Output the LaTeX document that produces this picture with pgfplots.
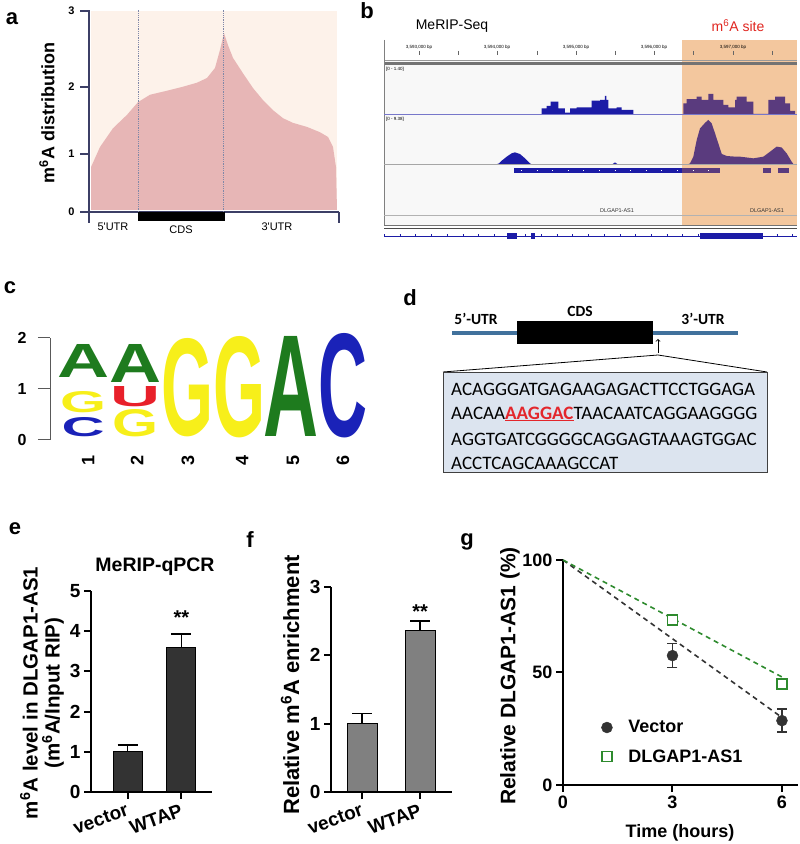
\documentclass[border=0pt]{standalone}
\usepackage{fontspec}
\setmainfont{Liberation Sans}
\newfontfamily\carlito{Carlito}
\usepackage{graphicx}
\usepackage{pgfplots}
\pgfplotsset{compat=1.18}
\newcommand\fs[1]{\fontsize{#1}{#1}\selectfont}
\definecolor{peach}{HTML}{FDF2EA}
\definecolor{pinkc}{HTML}{E7B6B6}
\definecolor{axisnavy}{HTML}{3C3F66}
\definecolor{dotc}{HTML}{8088A8}
\definecolor{igvbg}{HTML}{F8F8F8}
\definecolor{orangec}{HTML}{F3C79E}
\definecolor{igvblue}{HTML}{1C1CA6}
\definecolor{igvpurple}{HTML}{5A3B7E}
\definecolor{logoA}{HTML}{1E7B1E}
\definecolor{logoG}{HTML}{F7EF1A}
\definecolor{logoC}{HTML}{1A22B8}
\definecolor{logoU}{HTML}{E8202A}
\definecolor{utrblue}{HTML}{41719C}
\definecolor{seqbox}{HTML}{DCE4EF}
\definecolor{seqred}{HTML}{E3262C}
\definecolor{bar1}{HTML}{333333}
\definecolor{bar2}{HTML}{808080}
\definecolor{ggreen}{HTML}{2E8B2E}
\definecolor{msite}{HTML}{E0251F}
\newcommand\LL[6]{\node[anchor=south,inner sep=0pt,text=#5] at (axis cs:#1,#2) {\resizebox{#3pt}{#4pt}{\textbf{#6}}};}
\pgfplotsset{gp/.style={scale only axis, anchor=south west, axis lines*=left, tick align=outside,
  major tick length=7pt, axis line style={line width=2pt, black}, tick style={line width=2pt, black},
  /pgf/number format/assume math mode=true, ticklabel style={font=\fs{19}\bfseries}, clip=false}}
\pgfplotsset{trk/.style={scale only axis, anchor=south west, hide axis, width=413pt,
  xmin=3592.554, xmax=3597.821}}
\begin{document}
\begin{tikzpicture}[x=1pt,y=1pt]
\useasboundingbox (0,0) rectangle (800,844);

% ================= panel a
\begin{axis}[scale only axis, anchor=south west, at={(89pt,632pt)}, width=250pt, height=202pt,
  xmin=0, xmax=250, ymin=0, ymax=3.015, axis lines*=left, clip=false, xtick=\empty,
  ytick={0,0.866,1.866,3.0}, yticklabels={0,1,2,3}, tick align=outside, major tick length=9pt,
  axis line style={axisnavy, line width=1.2pt}, tick style={axisnavy, line width=1.2pt},
  yticklabel style={font=\fs{11}\bfseries, xshift=-2pt}]
\fill[peach] (axis cs:2,0.03) rectangle (axis cs:248,3.0);
\addplot[fill=pinkc, draw=none] coordinates {(2,0.03)(2,0.67)(11,0.97)(24,1.25)(38,1.45)(49,1.64)(61,1.75)(78,1.81)(94,1.87)(108,1.93)(118,2.00)(126,2.15)(131,2.42)(135,2.67)(139,2.49)(144,2.30)(154,2.07)(164,1.85)(174,1.67)(184,1.52)(194,1.40)(204,1.33)(218,1.27)(231,1.19)(239,1.12)(244,0.97)(247,0.67)(248,0.03)};
\draw[dotc, densely dotted, line width=0.8pt] (axis cs:49,0) -- (axis cs:49,3.015);
\draw[dotc, densely dotted, line width=0.8pt] (axis cs:134,0) -- (axis cs:134,3.015);
\fill[black] (axis cs:49,0) rectangle (axis cs:136,-0.134);
\draw[axisnavy, line width=1.2pt] (axis cs:0,0) -- (axis cs:0,-0.16);
\draw[axisnavy, line width=1.2pt] (axis cs:250,0) -- (axis cs:250,-0.16);
\end{axis}
\node[font=\fs{22}\bfseries] at (12,844-19) {a};
\node[rotate=90,font=\fs{18}\bfseries] at (47,844-113) {m\textsuperscript{6}A distribution};
\node[font=\fs{11}] at (113,844-227) {5\textquotesingle UTR};
\node[font=\fs{11}] at (181,844-230) {CDS};
\node[font=\fs{11}] at (277,844-227) {3\textquotesingle UTR};

% ================= panel b
\node[font=\fs{22}\bfseries] at (367,844-11) {b};
\node[font=\fs{14}] at (452,844-26) {MeRIP-Seq};
\node[font=\fs{14}, text=msite] at (738,844-26) {m\textsuperscript{6}A site};
\fill[white] (384,844-40) rectangle (797,844-60);
\fill[igvbg] (384,844-60) rectangle (797,844-225);
\fill[orangec] (682,844-40) rectangle (797,844-225);
\foreach \x in {419,458,497,537,576,615,654,693,733,772} \draw[black!60, line width=0.5pt] (\x,844-51) -- (\x,844-55);
\node[font=\fs{4.5}] at (419,844-47) {3,593,000 bp};
\node[font=\fs{4.5}] at (497,844-47) {3,594,000 bp};
\node[font=\fs{4.5}] at (576,844-47) {3,595,000 bp};
\node[font=\fs{4.5}] at (654,844-47) {3,596,000 bp};
\node[font=\fs{4.5}] at (733,844-47) {3,597,000 bp};
\draw[black!40, line width=0.5pt] (384,844-60) -- (797,844-60);
\draw[black!55, line width=2.2pt] (384,844-63.5) -- (797,844-63.5);
\draw[black!50, line width=0.6pt] (384,844-40) -- (384,844-226);
\draw[black!30, line width=0.5pt] (384,844-215) -- (797,844-215);
\draw[black!55, line width=0.6pt] (384,844-225) -- (797,844-225);
\draw[black!70, line width=0.8pt] (384,844-228) -- (797,844-228);
\draw[igvblue!60, line width=0.6pt] (384,844-114) -- (797,844-114);
\draw[black!35, line width=0.5pt] (384,844-164) -- (797,844-164);
\node[font=\fs{4.5}, anchor=west, inner sep=0pt] at (386,844-69) {[0 - 1.40]};
\node[font=\fs{4.5}, anchor=west, inner sep=0pt] at (386,844-119) {[0 - 9.38]};
\node[font=\fs{5.5}, text=black!80] at (617,844-211) {DLGAP1-AS1};
\node[font=\fs{5.5}, text=black!80] at (767,844-211) {DLGAP1-AS1};
% track 1
\begin{axis}[trk, at={(384pt,730pt)}, height=47pt, ymin=0, ymax=1.40]
\addplot[const plot, fill=igvblue, draw=none] coordinates {(3594.565,0.17)(3594.628,0.24)(3594.679,0.37)(3594.777,0.17)(3594.862,0.04)(3594.926,0.17)(3595.011,0.20)(3595.203,0.40)(3595.309,0.42)(3595.37,0.54)(3595.39,0.42)(3595.415,0.17)(3595.522,0.20)(3595.585,0.12)(3595.734,0)} \closedcycle;
\addplot[const plot, fill=igvpurple, draw=none] coordinates {(3596.372,0.32)(3596.414,0.44)(3596.542,0.52)(3596.606,0.42)(3596.690,0.60)(3596.754,0.42)(3596.882,0.27)(3596.945,0.20)(3597.031,0.42)(3597.052,0.52)(3597.180,0.37)(3597.264,0)(3597.456,0.42)(3597.541,0.52)(3597.668,0.32)(3597.732,0.09)(3597.796,0)} \closedcycle;
\end{axis}
% track 2
\begin{axis}[trk, at={(384pt,680pt)}, height=47pt, ymin=0, ymax=9.38]
\addplot[fill=igvblue, draw=none] coordinates {(3594.0,0)(3594.02,0.13)(3594.055,0.66)(3594.119,1.46)(3594.182,2.13)(3594.224,2.33)(3594.288,1.99)(3594.352,1.13)(3594.416,0.13)(3594.43,0)};
\addplot[fill=igvblue, draw=none] coordinates {(3595.47,0)(3595.5,0.3)(3595.53,0)};
\addplot[fill=igvpurple, draw=none] coordinates {(3596.44,0)(3596.457,0.13)(3596.499,1.46)(3596.542,4.8)(3596.584,7.1)(3596.648,8.2)(3596.690,8.8)(3596.733,8.1)(3596.776,6.1)(3596.818,4.1)(3596.861,2.0)(3596.925,1.6)(3597.00,1.5)(3597.094,1.46)(3597.18,1.3)(3597.264,1.13)(3597.392,1.46)(3597.477,2.46)(3597.562,3.46)(3597.625,3.3)(3597.689,2.13)(3597.753,0.46)(3597.774,0)};
\end{axis}
% gene models
\begin{axis}[trk, at={(384pt,604pt)}, height=80pt, ymin=160, ymax=240, y dir=reverse]
\addplot[fill=igvblue, draw=none] coordinates {(3594.212,168)(3596.355,168)(3596.355,173.5)(3594.212,173.5)};
\addplot[fill=igvpurple, draw=none] coordinates {(3596.355,168)(3596.839,168)(3596.839,173.5)(3596.355,173.5)};
\addplot[fill=igvpurple, draw=none] coordinates {(3597.388,168)(3597.490,168)(3597.490,173.5)(3597.388,173.5)};
\addplot[fill=igvpurple, draw=none] coordinates {(3597.579,168)(3597.719,168)(3597.719,173.5)(3597.579,173.5)};
\addplot[white, line width=0.6pt, dash pattern=on 0.6pt off 15pt] coordinates {(3594.3,170.7)(3596.8,170.7)};
\addplot[igvblue, line width=0.8pt] coordinates {(3592.554,236)(3597.821,236)};
\addplot[igvblue, line width=3pt, dash pattern=on 0.7pt off 15pt] coordinates {(3592.554,236)(3597.821,236)};
\addplot[fill=igvblue, draw=none] coordinates {(3594.122,233)(3594.250,233)(3594.250,239)(3594.122,239)};
\addplot[fill=igvblue, draw=none] coordinates {(3594.429,233)(3594.480,233)(3594.480,239)(3594.429,239)};
\addplot[fill=igvblue, draw=none] coordinates {(3596.584,233)(3597.388,233)(3597.388,239)(3596.584,239)};
\end{axis}

% ================= panel c
\node[font=\fs{22}\bfseries] at (10,844-288) {c};
\begin{axis}[scale only axis, anchor=south west, at={(50pt,404pt)}, width=319pt, height=102pt,
  xmin=0.365, xmax=6.5, ymin=0, ymax=2, axis y line*=left, axis x line=none, clip=false,
  ytick={0,1,2}, tick align=outside, major tick length=12pt,
  axis line style={black!65, line width=1pt}, tick style={black!65, line width=1pt},
  yticklabel style={font=\fs{16}\bfseries, xshift=-8pt}, /pgf/number format/assume math mode=true]
\LL{1}{0.06}{43}{19}{logoC}{C}
\LL{1}{0.53}{46}{21}{logoG}{G}
\LL{1}{1.22}{52}{33}{logoA}{A}
\LL{2}{0.06}{46}{27}{logoG}{G}
\LL{2}{0.65}{50}{20}{logoU}{U}
\LL{2}{1.12}{52}{38}{logoA}{A}
\LL{3}{0.06}{52}{97}{logoG}{G}
\LL{4}{0.04}{52}{100}{logoG}{G}
\LL{5}{0.06}{55}{100}{logoA}{A}
\LL{6}{0.04}{49}{103}{logoC}{C}
\node[rotate=90,font=\fs{18}\bfseries] at (axis cs:1.1,-0.41) {1};
\node[rotate=90,font=\fs{18}\bfseries] at (axis cs:2.04,-0.41) {2};
\node[rotate=90,font=\fs{18}\bfseries] at (axis cs:3.02,-0.41) {3};
\node[rotate=90,font=\fs{18}\bfseries] at (axis cs:4.06,-0.41) {4};
\node[rotate=90,font=\fs{18}\bfseries] at (axis cs:5.04,-0.41) {5};
\node[rotate=90,font=\fs{18}\bfseries] at (axis cs:6.0,-0.41) {6};
\end{axis}

% ================= panel d
\node[font=\fs{22}\bfseries] at (410,844-298) {d};
\draw[utrblue, line width=4pt] (452,844-333) -- (738,844-333);
\fill[black] (517,844-321) rectangle (653,844-344);
\node[font=\carlito\fs{15.5}\bfseries] at (476,844-319) {5’-UTR};
\node[font=\carlito\fs{15.5}\bfseries] at (580,844-311) {CDS};
\node[font=\carlito\fs{15.5}\bfseries] at (703,844-319) {3’-UTR};
\draw[black, line width=0.8pt, ->] (658,844-353) -- (658,844-339);
\draw[black, line width=0.8pt] (443,844-372) -- (658,844-355) -- (767,844-372);
\filldraw[fill=seqbox, draw=black!75, line width=0.8pt] (443,844-372) rectangle (767,844-472);
\node[font=\carlito\fs{19}, anchor=west, inner sep=0pt] at (451,844-389) {ACAGGGATGAGAAGAGACTTCCTGGAGA};
\node[font=\carlito\fs{19}, anchor=west, inner sep=0pt] at (451,844-414) {AACAA\textcolor{seqred}{\textbf{\underline{AAGGAC}}}TAACAATCAGGAAGGGG};
\node[font=\carlito\fs{19}, anchor=west, inner sep=0pt] at (451,844-439) {AGGTGATCGGGGCAGGAGTAAAGTGGAC};
\node[font=\carlito\fs{19}, anchor=west, inner sep=0pt] at (451,844-463) {ACCTCAGCAAAGCCAT};

% ================= panel e
\node[font=\fs{22}\bfseries] at (15,844-529) {e};
\node[font=\fs{19.5}\bfseries] at (155,844-567) {MeRIP-qPCR};
\node[rotate=90,font=\fs{20.5}\bfseries] at (29,844-693) {m\textsuperscript{6}A level in DLGAP1-AS1};
\node[rotate=90,font=\fs{20.5}\bfseries] at (53,844-693) {(m\textsuperscript{6}A/Input RIP)};
\begin{axis}[gp, at={(91pt,52pt)}, width=121pt, height=201pt, xmin=0.324, xmax=2.565, ymin=0, ymax=5,
  ytick={0,1,2,3,4,5}, xtick={1,2}, xticklabels={vector,WTAP},
  xticklabel style={rotate=20, anchor=north east, font=\fs{19}\bfseries}]
\addplot[ybar, bar width=29pt, fill=bar1, draw=black, line width=1pt,
  error bars/.cd, y dir=plus, y explicit, error bar style={line width=1.8pt, black},
  error mark options={rotate=90, mark size=10pt, line width=1.8pt, black}]
  coordinates {(1,1.0) +- (0,0.17) (2,3.6) +- (0,0.33)};
\node[font=\fs{20}\bfseries] at (axis cs:2,4.35) {**};
\end{axis}

% ================= panel f
\node[font=\fs{22}\bfseries] at (250,844-540) {f};
\node[rotate=90,font=\fs{22}\bfseries] at (290,844-685) {Relative m\textsuperscript{6}A enrichment};
\begin{axis}[gp, at={(331pt,52pt)}, width=121pt, height=205pt, xmin=0.466, xmax=2.55, ymin=0, ymax=3,
  ytick={0,1,2,3}, xtick={1,2}, xticklabels={vector,WTAP},
  xticklabel style={rotate=20, anchor=north east, font=\fs{19}\bfseries}]
\addplot[ybar, bar width=30pt, fill=bar2, draw=black, line width=1pt,
  error bars/.cd, y dir=plus, y explicit, error bar style={line width=1.8pt, black},
  error mark options={rotate=90, mark size=10pt, line width=1.8pt, black}]
  coordinates {(1,1.0) +- (0,0.15) (2,2.36) +- (0,0.14)};
\node[font=\fs{20}\bfseries] at (axis cs:2,2.64) {**};
\end{axis}

% ================= panel g
\node[font=\fs{22}\bfseries] at (467,844-542) {g};
\node[rotate=90,font=\fs{21}\bfseries] at (510,844-676) {Relative DLGAP1-AS1 (\%)};
\node[font=\fs{18}\bfseries] at (680,844-833) {Time (hours)};
\begin{axis}[gp, at={(563pt,59pt)}, width=235pt, height=225pt, xmin=0, xmax=6.44, ymin=0, ymax=100,
  xtick={0,3,6}, ytick={0,50,100}, ticklabel style={font=\fs{18}\bfseries},
  legend style={at={(0.15,0.305)}, anchor=north west, draw=none, fill=none, font=\fs{18}\bfseries, row sep=11pt,
    /tikz/every odd column/.append style={column sep=14pt}},
  legend cell align=left]
\addplot[forget plot, black!80, line width=1.6pt, dash pattern=on 5pt off 4pt] coordinates {(0,100)(6,30)};
\addplot[forget plot, ggreen, line width=1.6pt, dash pattern=on 5pt off 4pt] coordinates {(0,100)(6,48)};
\addplot[only marks, mark=*, mark size=5.5pt, color=bar1,
  error bars/.cd, y dir=both, y explicit, error bar style={line width=1.6pt, bar1},
  error mark options={rotate=90, mark size=5pt, line width=1.6pt, bar1}]
  coordinates {(3,57.5) +- (0,5.3) (6,28.6) +- (0,5.1)};
\addplot[only marks, mark=square*, mark size=5pt, color=ggreen, mark options={line width=1.8pt, fill=white},
  error bars/.cd, y dir=both, y explicit, error bar style={line width=1.6pt, ggreen},
  error mark options={rotate=90, mark size=4pt, line width=1.6pt, ggreen}]
  coordinates {(3,73.5) +- (0,1.5) (6,45) +- (0,1.5)};
\legend{Vector, DLGAP1-AS1}
\end{axis}
\end{tikzpicture}
\end{document}
